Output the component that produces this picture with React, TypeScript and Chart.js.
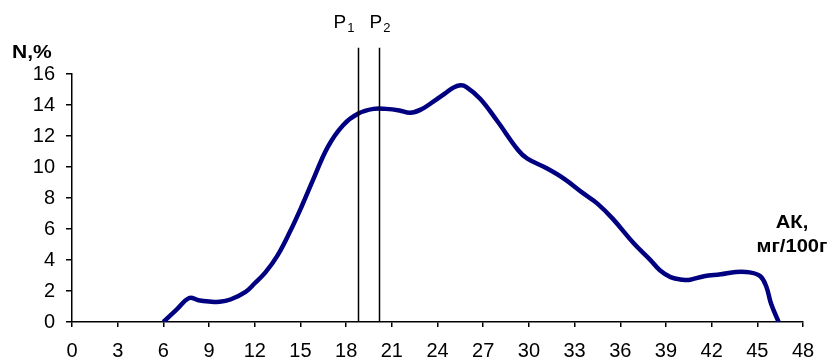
import React, { useEffect, useRef } from "react";
import { Chart, registerables } from "chart.js";

Chart.register(...registerables);

// Data
const akValues = [6, 6.85, 7.7, 8.3, 9.0, 9.7, 10.4, 11.4, 12.0, 12.7, 13.5, 14.3, 15.1, 15.8, 16.8, 17.8, 18.8, 19.8, 20.6, 21.5, 22.2, 22.9, 23.7, 24.5, 25.0, 25.5, 25.9, 26.8, 27.9, 29.3, 29.9, 31.2, 32.3, 33.6, 34.5, 35.5, 36.9, 38.0, 38.6, 39.3, 40.1, 40.6, 41.5, 42.6, 43.6, 44.5, 45.2, 45.6, 45.9, 46.4];
const nValues = [0, 0.78, 1.55, 1.4, 1.32, 1.3, 1.45, 1.95, 2.5, 3.2, 4.3, 5.8, 7.5, 9.1, 11.3, 12.7, 13.45, 13.75, 13.75, 13.65, 13.5, 13.7, 14.2, 14.75, 15.1, 15.27, 15.16, 14.41, 13.0, 11.08, 10.54, 9.9, 9.25, 8.28, 7.64, 6.67, 5.06, 3.98, 3.34, 2.9, 2.73, 2.73, 2.95, 3.08, 3.23, 3.2, 2.95, 2.26, 1.19, 0];
const pPositions = [18.8, 20.15];
const pLabels = ["1", "2"];
const pTopValue = 17.7;
const xTicks = { min: 0, max: 48, step: 3 };
const yTicks = { min: 0, max: 16, step: 2 };
const yTitle = "N,%";
const xTitle = ["АК,", "мг/100г"];

const FONT = "'Liberation Sans', Arial, sans-serif";

function stretchedText(ctx: any, text: string, x: number, y: number, align: string, sx: number) {
  ctx.save();
  ctx.translate(x, y);
  ctx.scale(sx, 1);
  ctx.textAlign = align;
  ctx.fillText(text, 0, 0);
  ctx.restore();
}

const annotations = {
  id: "annotations",
  afterDraw(chart: any) {
    const ctx = chart.ctx;
    const xs = chart.scales.x;
    const ys = chart.scales.y;
    const area = chart.chartArea;
    ctx.save();
    ctx.strokeStyle = "#000";
    ctx.lineWidth = 1.5;
    const top = ys.getPixelForValue(pTopValue);
    pPositions.forEach((p, i) => {
      const px = Math.round(xs.getPixelForValue(p)) + 0.5;
      ctx.beginPath();
      ctx.moveTo(px, top);
      ctx.lineTo(px, area.bottom);
      ctx.stroke();
      const startX = i === 0 ? px - 25 : px - 10;
      ctx.fillStyle = "#000";
      ctx.textBaseline = "alphabetic";
      ctx.textAlign = "left";
      ctx.font = `19px ${FONT}`;
      ctx.fillText("P", startX, 28);
      const w = ctx.measureText("P").width;
      ctx.font = `13px ${FONT}`;
      ctx.fillText(pLabels[i], startX + w + 1, 32);
    });
    ctx.fillStyle = "#000";
    ctx.font = `bold 18px ${FONT}`;
    ctx.textBaseline = "alphabetic";
    stretchedText(ctx, yTitle, 12, 58, "left", 1.17);
    stretchedText(ctx, xTitle[0], 792, 228, "center", 1.12);
    stretchedText(ctx, xTitle[1], 792, 252, "center", 1.12);
    ctx.restore();
  },
};

export default function App() {
  const ref = useRef<HTMLCanvasElement | null>(null);
  useEffect(() => {
    if (!ref.current) return;
    const data = akValues.map((x, i) => ({ x, y: nValues[i] }));
    const chart = new Chart(ref.current, {
      type: "line",
      data: {
        datasets: [
          {
            data,
            borderColor: "#000080",
            borderWidth: 4.5,
            pointRadius: 0,
            fill: false,
            tension: 0.4,
          },
        ],
      },
      options: {
        responsive: false,
        animation: false,
        layout: { padding: { top: 74, right: 36, bottom: 0, left: 0 } },
        plugins: { legend: { display: false }, tooltip: { enabled: false } },
        scales: {
          x: {
            type: "linear",
            min: xTicks.min,
            max: xTicks.max,
            ticks: {
              stepSize: xTicks.step,
              color: "#000",
              font: { family: FONT, size: 20 },
              padding: 12,
              maxRotation: 0,
              autoSkip: false,
            },
            grid: {
              drawOnChartArea: false,
              drawTicks: true,
              tickLength: 5,
              color: "#000",
              lineWidth: 1.5,
            },
            border: { display: true, color: "#000", width: 1.5 },
            afterFit: (scale: any) => {
              scale.height = 39;
            },
          },
          y: {
            min: yTicks.min,
            max: yTicks.max,
            ticks: {
              stepSize: yTicks.step,
              color: "#000",
              font: { family: FONT, size: 20 },
              padding: 11,
            },
            grid: {
              drawOnChartArea: false,
              drawTicks: true,
              tickLength: 6,
              color: "#000",
              lineWidth: 1.5,
            },
            border: { display: true, color: "#000", width: 1.5 },
            afterFit: (scale: any) => {
              scale.width = 72;
            },
          },
        },
      },
      plugins: [annotations],
    });
    return () => chart.destroy();
  }, []);
  return (
    <div style={{ position: "absolute", left: 0, top: 0, width: 839, height: 361, background: "#fff" }}>
      <canvas ref={ref} width={839} height={361} />
    </div>
  );
}
